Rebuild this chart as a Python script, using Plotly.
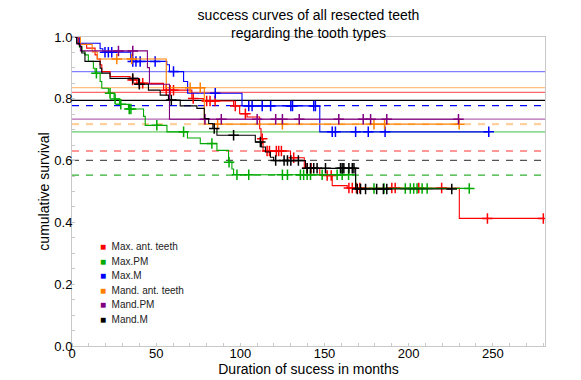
import numpy as np
import plotly.graph_objects as go

# ---------------- data ----------------
groups = ["Max. ant. teeth", "Max.PM", "Max.M", "Mand. ant. teeth", "Mand.PM", "Mand.M"]
colors = ["#ff0000", "#00aa00", "#0000ff", "#ff8000", "#800080", "#000000"]

# Max. ant. teeth
red_t = [3.8, 8.7, 13.7, 15, 16.7, 17.7, 22.6, 34.5, 38.5, 54.4, 71.2, 78, 96, 99.6, 104,
         111.5, 112.3, 113.5, 129.8, 138, 147.2, 154.6, 163.5, 230.1]
red_s = [0.977, 0.964, 0.942, 0.929, 0.91, 0.888, 0.872, 0.861, 0.85, 0.828, 0.801, 0.793,
         0.777, 0.752, 0.741, 0.703, 0.671, 0.631, 0.609, 0.575, 0.552, 0.519, 0.511, 0.413]
red_c = [36, 40, 42, 56, 58.3, 60.3, 72, 80, 82, 85, 97, 103, 113, 115.9, 117.3, 121.4, 122.8,
         124.4, 131.7, 139.7, 142, 151.6, 154, 164.5, 166.5, 169, 171, 190, 192, 206, 219.6,
         246.8, 280]

# Max.PM
green_t = [2.8, 4.4, 5.8, 7.7, 9.7, 12.7, 13.7, 16.7, 17.7, 21.6, 25, 28.2, 33.5, 42.5, 43.5,
           56.4, 68.6, 76.2, 86.1, 93, 95, 96, 168.5]
green_s = [0.98, 0.967, 0.953, 0.942, 0.921, 0.899, 0.883, 0.856, 0.834, 0.818, 0.799, 0.782,
           0.767, 0.743, 0.714, 0.693, 0.673, 0.655, 0.633, 0.595, 0.573, 0.554, 0.51]
green_c = [14.5, 22.6, 25.6, 29, 34, 35, 50.4, 66.3, 83.1, 93.3, 98, 105, 125, 128, 135.7, 137.6,
           139.7, 141.7, 148.6, 157.5, 160.5, 164.3, 179.4, 185.3, 198, 201, 203, 205, 208, 211, 236]

# Max.M
blue_t = [4.4, 16.7, 18.3, 34.9, 56.3, 57.9, 66.3, 68.7, 101, 147.2]
blue_s = [0.98, 0.962, 0.951, 0.921, 0.91, 0.888, 0.856, 0.818, 0.777, 0.693]
blue_c = [19.6, 21.6, 23.6, 36.1, 38, 40.5, 49.4, 60.3, 85.1, 105, 107, 113, 118, 130, 131,
          143.6, 144.6, 154.6, 156.5, 168.5, 176, 186, 247.6]

# Mand. ant. teeth
orange_t = [5, 12, 15, 56, 78.6]
orange_s = [0.976, 0.952, 0.929, 0.836, 0.718]
orange_c = [26.6, 35.5, 70.2, 76.2, 86.5, 125, 179.4, 185.7, 230]

# Mand.PM
purple_t = [3, 5, 44.8, 46, 57.9]
purple_s = [0.977, 0.955, 0.901, 0.847, 0.734]
purple_c = [27.6, 36.1, 79, 88.7, 110, 121, 125, 135, 158.5, 173, 177.4, 187, 229.6]

# Mand.M
black_t = [2.8, 4.4, 5.8, 7.7, 16.7, 17.7, 22.6, 39.5, 45.4, 52.4, 57.3, 64.3, 74.2, 78.6, 81.2,
           83.7, 86.1, 108.9, 112.5, 114.9, 117.9, 119.8, 138.7, 168.5]
black_s = [0.98, 0.97, 0.948, 0.921, 0.899, 0.883, 0.866, 0.847, 0.828, 0.812, 0.796, 0.777,
           0.769, 0.736, 0.72, 0.704, 0.682, 0.66, 0.644, 0.628, 0.611, 0.6, 0.575, 0.508]
black_c = [36.1, 40, 59, 84.5, 96, 111.9, 121, 126, 128, 130, 134.5, 139.7, 141.7, 143.6, 145.6,
           150.6, 159.5, 160.5, 161.5, 164.5, 166.5, 167.5, 169.5, 171.4, 174.4, 181, 185, 187, 225.6]

# horizontal reference levels
ref_levels = [0.888, 0.836, 0.821, 0.795, 0.778, 0.734, 0.718, 0.693, 0.631, 0.601, 0.553]
ref_colors = ["rgba(0,0,255,0.5)", "rgba(255,128,0,0.5)", "rgba(255,0,0,0.6)", "#000000",
              "#0000ff", "rgba(128,0,128,0.6)", "rgba(255,150,40,0.45)", "rgba(0,170,0,0.6)",
              "#ff3030", "#555555", "#30b030"]
ref_dash = ["solid", "solid", "solid", "solid", "dash", "solid", "dash", "solid", "dash", "dash", "dash"]
ref_width = [1.2, 1.2, 1.2, 1.2, 1.2, 1.2, 2.4, 1.2, 1.2, 1.2, 1.2]

x_end = 281
series = [
    (red_t, red_s, red_c),
    (green_t, green_s, green_c),
    (blue_t, blue_s, blue_c),
    (orange_t, orange_s, orange_c),
    (purple_t, purple_s, purple_c),
    (black_t, black_s, black_c),
]

fig = go.Figure()

DASH = "7px,7px"
for lvl, col, d, w in zip(ref_levels, ref_colors, ref_dash, ref_width):
    fig.add_trace(go.Scatter(x=[0, x_end], y=[lvl, lvl], mode="lines",
                             line=dict(color=col, width=w, dash=DASH if d == "dash" else "solid"),
                             showlegend=False, hoverinfo="skip"))


def surv_at(t_list, s_list, x):
    t = np.asarray(t_list)
    s = np.concatenate([[1.0], np.asarray(s_list)])
    idx = np.searchsorted(t, x, side="right")
    return s[idx]


for name, col, (t, s, c) in zip(groups, colors, series):
    end = max(c[-1], t[-1])
    xs = [0] + list(t) + [end]
    ys = [1.0] + list(s) + [s[-1]]
    fig.add_trace(go.Scatter(x=xs, y=ys, mode="lines", line=dict(color=col, width=1.1, shape="hv"),
                             name=name, showlegend=False, hoverinfo="skip"))
    fig.add_trace(go.Scatter(x=c, y=surv_at(t, s, np.asarray(c)), mode="markers",
                             marker=dict(symbol="cross-thin", size=7.5, color=col,
                                         line=dict(color=col, width=1.5)),
                             showlegend=False, hoverinfo="skip"))

FONT = "Liberation Sans, Arial, sans-serif"

# page body adds an 8px offset; figure is sized so the plot lands where the reference has it
OFF = 8
W, H = 581 - OFF, 380 - OFF
ML, MR, MT, MB = 72 - OFF, 36, 37 - OFF, 34
plot_h = H - MT - MB
plot_w = W - ML - MR

# legend as text annotations
for i, (name, col) in enumerate(zip(groups, colors)):
    py = 247 + i * 14.4 - OFF
    fig.add_annotation(xref="paper", yref="paper", x=(98 - OFF - ML) / plot_w,
                       y=(H - MB - py) / plot_h,
                       xanchor="left", yanchor="middle", showarrow=False,
                       text=f'<span style="color:{col}">■</span>  {name}',
                       font=dict(family=FONT, size=10, color="#222"))

fig.update_layout(
    width=W, height=H,
    margin=dict(l=ML, r=MR, t=MT, b=MB, autoexpand=False),
    paper_bgcolor="white", plot_bgcolor="white",
    font=dict(family=FONT, size=13, color="#000"),
    title=dict(text="success curves of all resected teeth<br>regarding the tooth types",
               xref="paper", x=0.5, xanchor="center",
               yref="container", y=1 - (20 - OFF) / H, yanchor="middle",
               font=dict(size=14, family=FONT, color="#000")),
    showlegend=False,
)
fig.update_xaxes(range=[0, x_end], tickvals=[0, 50, 100, 150, 200, 250], showgrid=False,
                 automargin=False, ticklabelstandoff=-5,
                 zeroline=False, showline=True, linecolor="#c8c8c8", linewidth=1, mirror=True,
                 ticks="", tickfont=dict(size=13),
                 title=dict(text="Duration of sucess in months", font=dict(size=14), standoff=2),
                 minor=dict(ticks="inside", dtick=10, ticklen=3, tickcolor="#c8c8c8", showgrid=False))
fig.update_yaxes(range=[0, 1.0], tickvals=[0, 0.2, 0.4, 0.6, 0.8, 1.0], tickformat=".1f",
                 automargin=False, ticklabelstandoff=-4,
                 showgrid=False, zeroline=False, showline=True, linecolor="#c8c8c8", linewidth=1,
                 mirror=True, ticks="", tickfont=dict(size=13),
                 title=dict(text="cumulative survival", font=dict(size=14), standoff=1),
                 minor=dict(ticks="inside", dtick=0.05, ticklen=3, tickcolor="#c8c8c8", showgrid=False))

fig.write_html("out.html")
